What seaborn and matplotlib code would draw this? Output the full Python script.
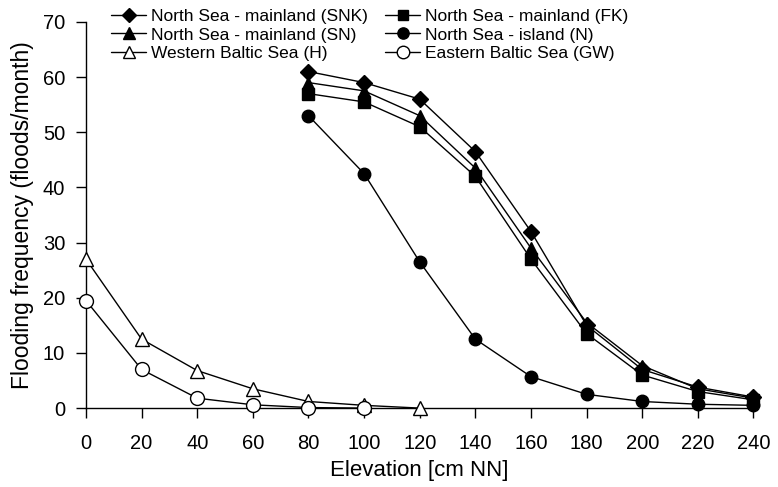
import seaborn as sns
import pandas as pd
import matplotlib.pyplot as plt

# Flooding frequency per elevation
elev_north = [80, 100, 120, 140, 160, 180, 200, 220, 240]
snk = [61.0, 59.0, 56.0, 46.5, 32.0, 15.0, 7.0, 3.8, 2.0]
fk = [57.0, 55.5, 51.0, 42.0, 27.0, 13.5, 6.0, 3.0, 1.5]
sn = [59.0, 57.5, 53.0, 43.5, 29.0, 15.5, 7.7, 3.5, 1.8]
n_island = [53.0, 42.5, 26.5, 12.5, 5.7, 2.5, 1.2, 0.7, 0.5]

elev_h = [0, 20, 40, 60, 80, 100, 120]
h = [27.0, 12.5, 6.8, 3.5, 1.2, 0.5, 0.0]
elev_gw = [0, 20, 40, 60, 80, 100]
gw = [19.5, 7.0, 1.8, 0.6, 0.1, 0.0]

# listed column by column, so the 2-column legend reads row-wise like the original
series = [
    ('North Sea - mainland (SNK)', elev_north, snk, 'D', 'black', 8),
    ('North Sea - mainland (SN)', elev_north, sn, '^', 'black', 9),
    ('Western Baltic Sea (H)', elev_h, h, '^', 'white', 10),
    ('North Sea - mainland (FK)', elev_north, fk, 's', 'black', 8),
    ('North Sea - island (N)', elev_north, n_island, 'o', 'black', 9),
    ('Eastern Baltic Sea (GW)', elev_gw, gw, 'o', 'white', 10),
]

sns.set_style('ticks')
plt.rcParams['font.family'] = ['Liberation Sans', 'DejaVu Sans']
plt.rcParams.update({'text.color': 'black', 'axes.labelcolor': 'black',
                     'xtick.color': 'black', 'ytick.color': 'black'})

fig = plt.figure(figsize=(7.78, 4.87), dpi=100)
ax = fig.add_axes([0.1105, 0.162, 0.858, 0.793])

for label, x, y, mk, face, ms in series:
    df = pd.DataFrame({'elev': x, 'freq': y})
    sns.lineplot(data=df, x='elev', y='freq', ax=ax, color='black', lw=1,
                 marker=mk, markersize=ms, markerfacecolor=face,
                 markeredgecolor='black', markeredgewidth=1,
                 label=label, clip_on=False, zorder=3)

ax.set_xlim(0, 240)
ax.set_ylim(0, 70)
ax.set_xticks(range(0, 241, 20))
ax.set_yticks(range(0, 71, 10))
ax.tick_params(axis='x', direction='out', length=7, width=1, pad=12, labelsize=14.5)
ax.tick_params(axis='y', direction='out', length=7, width=1, pad=8, labelsize=14.5)
for s in ['top', 'right']:
    ax.spines[s].set_visible(False)
for s in ['left', 'bottom']:
    ax.spines[s].set_linewidth(1)
    ax.spines[s].set_color('black')

ax.set_xlabel('Elevation [cm NN]', fontsize=16, labelpad=5)
ax.set_ylabel('Flooding frequency (floods/month)', fontsize=16.5, labelpad=6)

handles, labels = ax.get_legend_handles_labels()
ax.legend(handles, labels, ncol=2, frameon=False, fontsize=12.5,
          loc='upper left', bbox_to_anchor=(0.143, 0.982),
          bbox_transform=fig.transFigure, handlelength=2.0,
          handletextpad=0.3, labelspacing=0.2, columnspacing=1.0,
          borderaxespad=0, borderpad=0, markerscale=0.9)

fig.savefig('out.png', dpi=100)
